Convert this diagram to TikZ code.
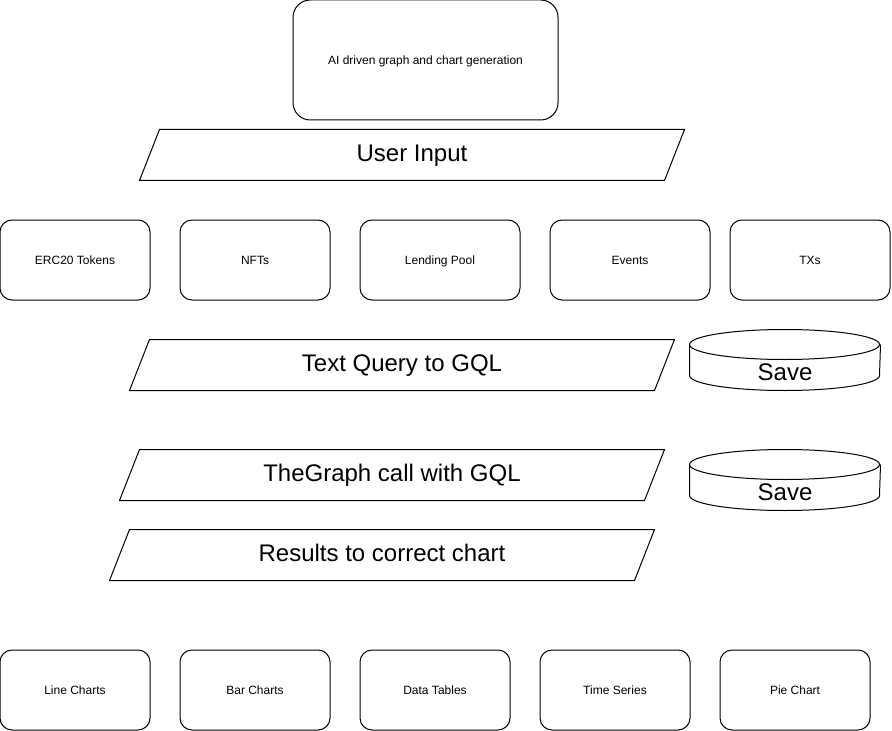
\documentclass[tikz,border=0pt]{standalone}
\usepackage{fontspec}
\setmainfont{Liberation Sans}
\usetikzlibrary{positioning,calc}
\tikzset{
  box/.style = {rectangle, draw, rounded corners=9pt,
                minimum width = 112.5pt, minimum height = 60pt,
                align = center, text height=0.8em, text depth=0.08em,
                font = \fontsize{9}{11}\selectfont},
  wide/.style = {box, minimum width = 120pt},
  slantbox/.style = {rectangle, minimum width = 408pt, minimum height = 37.5pt,
                inner sep=0pt, text height=1.05em, text depth=0.08em,
                font = \fontsize{18}{21}\selectfont},
  store/.style = {rectangle, minimum width = 142.5pt, minimum height = 22.5pt,
                inner sep=0pt, text height=0.97em, text depth=0.08em,
                font = \fontsize{18}{21}\selectfont},
  lidarc/.style = {x radius=71.25pt, y radius=11.25pt}
}

\begin{document}
\begin{tikzpicture}[x=0.75pt, y=-0.75pt, line width=0.75pt]
\useasboundingbox (0,0) rectangle (892,731);

% --- Kopf --------------------------------------------------------
\node[box, minimum width=198.75pt, minimum height=90pt, rounded corners=13pt]
  (title) at (425.5,60) {AI driven graph and chart generation};
\node[slantbox] (input) at (412,155) {User Input};

% --- Datenquellen ------------------------------------------------
\node[box]  (erc)     at (75,260)  {ERC20 Tokens};
\node[box]  (nfts)    at (255,260) {NFTs};
\node[wide] (lending) at (440,260) {Lending Pool};
\node[wide] (events)  at (630,260) {Events};
\node[wide] (txs)     at (810,260) {TXs};

% --- Abfrage -----------------------------------------------------
\node[slantbox] (query)    at (402,365) {Text Query to GQL};
\node[store]    (save1)    at (785,375) {Save};
\node[slantbox] (thegraph) at (392,475) {TheGraph call with GQL};
\node[store]    (save2)    at (785,495) {Save};
\node[slantbox] (results)  at (382,555) {Results to correct chart};

% schraege Kanten
\foreach \n in {input,query,thegraph,results}
  \draw ($(\n.north west)+(20,0)$) -- (\n.north east)
        -- ($(\n.south east)-(20,0)$) -- (\n.south west) -- cycle;

% Zylinder
\foreach \n in {save1,save2} {
  \draw ($(\n.north west)+(0,-15)$) arc[start angle=180, end angle=540, lidarc];
  \draw ($(\n.north west)+(0,-15)$) -- ($(\n.south west)+(0,-15)$)
        arc[start angle=180, end angle=360, lidarc] -- ($(\n.north east)+(0,-15)$);
}

% --- Diagrammtypen -----------------------------------------------
\node[box] (line)  at (75,690)  {Line Charts};
\node[box] (bar)   at (255,690) {Bar Charts};
\node[box] (table) at (435,690) {Data Tables};
\node[box] (time)  at (615,690) {Time Series};
\node[box] (pie)   at (795,690) {Pie Chart};
\end{tikzpicture}
\end{document}
